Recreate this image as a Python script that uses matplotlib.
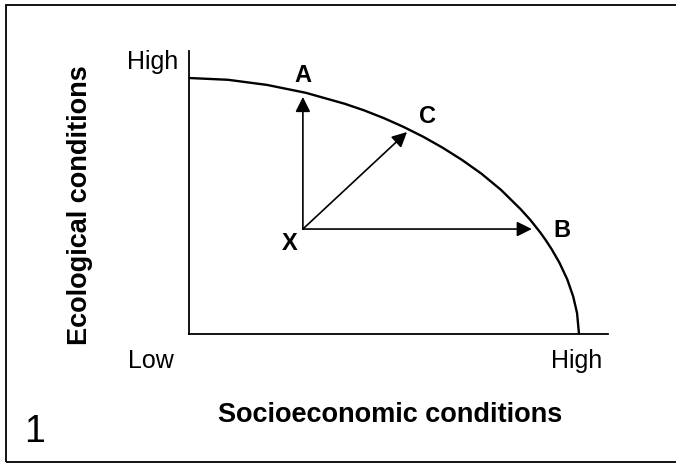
import matplotlib
matplotlib.use("Agg")
import matplotlib.pyplot as plt
from matplotlib.patches import Rectangle

plt.rcParams['font.family'] = ['Liberation Sans', 'DejaVu Sans']

# ---- data (axes normalised Low=0, High=1) ----
curve_x = [0.0, 0.1, 0.2, 0.3, 0.4, 0.45, 0.5, 0.55, 0.6, 0.65, 0.7, 0.75,
           0.8, 0.85, 0.875, 0.9, 0.915, 0.93, 0.95, 0.97, 0.985, 0.995, 1.0]
curve_y = [1.0, 0.993, 0.973, 0.942, 0.899, 0.873, 0.843, 0.809, 0.771,
           0.728, 0.680, 0.626, 0.563, 0.488, 0.446, 0.398, 0.366, 0.331,
           0.278, 0.213, 0.147, 0.082, 0.0]

origin = (0.292, 0.41)              # point X
arrow_names = ['A', 'C', 'B']
arrow_tips = [(0.292, 0.926), (0.559, 0.789), (0.879, 0.41)]

tick_low = 'Low'
tick_high = 'High'
xlabel = 'Socioeconomic conditions'
ylabel = 'Ecological conditions'
panel = '1'

W, H = 676, 464
fig = plt.figure(figsize=(W / 100, H / 100), dpi=100)


def fp(x, y):
    return x / W, 1 - y / H


# axes placed in pixel layout
ax = fig.add_axes([189 / W, (H - 335) / H, (608 - 189) / W, (335 - 52) / H])
ax.set_xlim(0, (608 - 189) / 390)
ax.set_ylim(0, (335 - 52) / 256)
for s in ['top', 'right']:
    ax.spines[s].set_visible(False)
for s in ['left', 'bottom']:
    ax.spines[s].set_linewidth(1.3)
ax.set_xticks([])
ax.set_yticks([])
ax.patch.set_alpha(0)

ax.plot(curve_x, curve_y, color='black', lw=1.7, solid_joinstyle='round',
        solid_capstyle='butt', clip_on=False)

for tip in arrow_tips:
    ax.annotate('', xy=tip, xytext=origin,
                arrowprops=dict(arrowstyle='-|>,head_length=0.9,head_width=0.45',
                                mutation_scale=10, lw=1.2, color='black',
                                shrinkA=0, shrinkB=0))

# point labels
letter_pos = {'A': (303, 82), 'C': (428, 123), 'B': (562, 237)}
for name in arrow_names:
    x, y = letter_pos[name]
    fig.text(*fp(x, y), name, ha='center', va='baseline', fontsize=17,
             fontweight='bold')
fig.text(*fp(290, 250), 'X', ha='center', va='baseline', fontsize=17,
         fontweight='bold')

# tick-like labels
fig.text(*fp(178, 69), tick_high, ha='right', va='baseline', fontsize=18)
fig.text(*fp(151, 368), tick_low, ha='center', va='baseline', fontsize=18)
fig.text(*fp(577, 368), tick_high, ha='center', va='baseline', fontsize=18)

# axis labels
fig.text(*fp(390, 422), xlabel, ha='center', va='baseline', fontsize=19.5,
         fontweight='bold')
fig.text(*fp(87, 205), ylabel, ha='center', va='baseline', rotation=90,
         rotation_mode='anchor', fontsize=19.5, fontweight='bold')

fig.text(*fp(35, 442), panel, ha='center', va='baseline', fontsize=27)

# outer frame (right side lies beyond the image edge)
fig.patches.append(Rectangle(fp(6, 462.5), (W + 30 - 6) / W, (462.5 - 6) / H,
                             transform=fig.transFigure, fill=False,
                             edgecolor='black', lw=1.3))

fig.savefig('out.png', dpi=100)
